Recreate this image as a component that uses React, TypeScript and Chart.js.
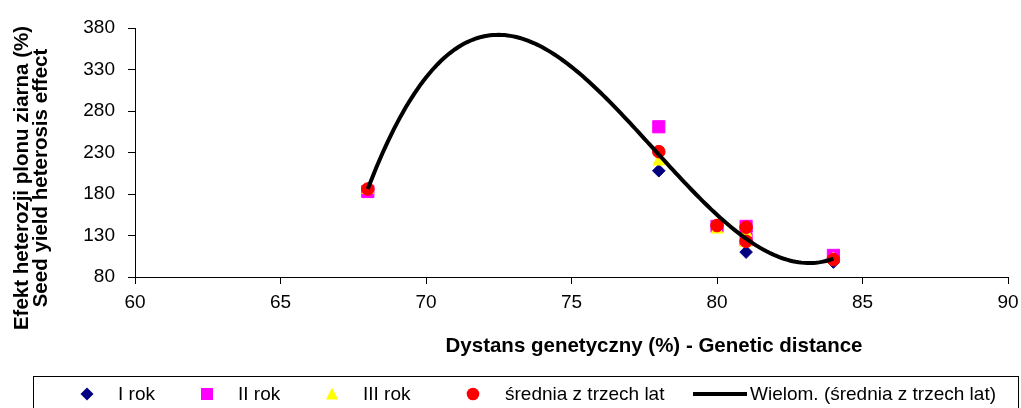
import React, { useEffect, useRef } from 'react';
import { Chart, registerables } from 'chart.js';

Chart.register(...registerables);

// ---- data ----
const distance = [68, 78, 80, 81, 81, 84];
const rokI = [186, 208, 142, 135, 110, 98];
const rokII = [183, 261, 141, 141, 125, 106];
const rokIII = [185, 219, 137, 133, 121, 102];
const srednia = [186, 231, 142, 140, 123, 101];

const seriesNames = ['I rok', 'II rok', 'III rok', 'średnia z trzech lat', 'Wielom. (średnia z trzech lat)'];
const xTitle = 'Dystans genetyczny (%) - Genetic distance';
const yTitleLines = ['Efekt heterozji plonu ziarna (%)', 'Seed yield heterosis effect'];
const xMin = 60, xMax = 90, xStep = 5;
const yMin = 80, yMax = 380, yStep = 50;
const trendOrder = 3; // Excel polynomial trendline of the mean series

const FONT = '"Liberation Sans", Arial, Helvetica, sans-serif';

// least squares polynomial fit (same as Excel's polynomial trendline)
function polyfit(xs: number[], ys: number[], order: number) {
  const n = order + 1;
  const mean = xs.reduce((a, b) => a + b, 0) / xs.length;
  const M: number[][] = Array.from({ length: n }, () => new Array(n + 1).fill(0));
  for (let k = 0; k < xs.length; k++) {
    const t = xs[k] - mean;
    for (let i = 0; i < n; i++) {
      for (let j = 0; j < n; j++) M[i][j] += Math.pow(t, i + j);
      M[i][n] += ys[k] * Math.pow(t, i);
    }
  }
  for (let c = 0; c < n; c++) {
    let p = c;
    for (let r = c + 1; r < n; r++) if (Math.abs(M[r][c]) > Math.abs(M[p][c])) p = r;
    [M[c], M[p]] = [M[p], M[c]];
    for (let r = 0; r < n; r++) {
      if (r === c) continue;
      const f = M[r][c] / M[c][c];
      for (let j = c; j <= n; j++) M[r][j] -= f * M[c][j];
    }
  }
  const coef = M.map((row, i) => row[n] / row[i]);
  return (x: number) => coef.reduce((s, a, i) => s + a * Math.pow(x - mean, i), 0);
}

const pts = (ys: number[]) => ys.map((y, i) => ({ x: distance[i], y }));

const overlayPlugin = {
  id: 'overlayTitlesLegend',
  afterDraw(chart: any) {
    const ctx = chart.ctx as CanvasRenderingContext2D;
    ctx.save();
    ctx.fillStyle = '#000';
    // x axis title
    ctx.font = `bold 20.5px ${FONT}`;
    ctx.textAlign = 'center';
    ctx.textBaseline = 'alphabetic';
    ctx.fillText(xTitle, 654, 352);
    // y axis title (two lines, rotated)
    ctx.save();
    ctx.translate(0, 178);
    ctx.rotate(-Math.PI / 2);
    ctx.fillText(yTitleLines[0], 0, 28);
    ctx.fillText(yTitleLines[1], 0, 47);
    ctx.restore();

    // legend box
    ctx.strokeStyle = '#000';
    ctx.lineWidth = 1;
    ctx.strokeRect(33.5, 376.5, 985, 60);
    const cy = 394;
    const colors = chart.data.datasets;
    const getColor = (label: string) => colors.find((d: any) => d.label === label).backgroundColor;
    // diamond
    ctx.fillStyle = getColor(seriesNames[0]);
    ctx.beginPath();
    ctx.moveTo(87, cy - 6.5); ctx.lineTo(93.5, cy); ctx.lineTo(87, cy + 6.5); ctx.lineTo(80.5, cy);
    ctx.closePath(); ctx.fill();
    // square
    ctx.fillStyle = getColor(seriesNames[1]);
    ctx.fillRect(201, cy - 6, 12, 12);
    // triangle
    ctx.fillStyle = getColor(seriesNames[2]);
    ctx.beginPath();
    ctx.moveTo(332, cy - 6.5); ctx.lineTo(338, cy + 5.5); ctx.lineTo(326, cy + 5.5);
    ctx.closePath(); ctx.fill();
    // circle
    ctx.fillStyle = getColor(seriesNames[3]);
    ctx.beginPath(); ctx.arc(473, cy, 6.3, 0, Math.PI * 2); ctx.fill();
    // line
    ctx.strokeStyle = '#000';
    ctx.lineWidth = 4;
    ctx.beginPath(); ctx.moveTo(693, cy); ctx.lineTo(747, cy); ctx.stroke();

    ctx.fillStyle = '#000';
    ctx.font = `19px ${FONT}`;
    ctx.textAlign = 'left';
    ctx.textBaseline = 'alphabetic';
    const textX = [118, 238, 363, 505, 750];
    seriesNames.forEach((s, i) => ctx.fillText(s, textX[i], 400));
    ctx.restore();
  },
};

export default function App() {
  const ref = useRef<HTMLCanvasElement | null>(null);
  useEffect(() => {
    if (!ref.current) return;
    const fit = polyfit(distance, srednia, trendOrder);
    const lo = Math.min(...distance), hi = Math.max(...distance);
    const trend: { x: number; y: number }[] = [];
    for (let x = lo; x <= hi + 1e-9; x += 0.1) trend.push({ x, y: fit(x) });

    const chart = new Chart(ref.current, {
      type: 'scatter',
      data: {
        datasets: [
          {
            type: 'line', label: seriesNames[4], data: trend, borderColor: '#000', backgroundColor: '#000',
            borderWidth: 4, pointRadius: 0, tension: 0, fill: false, order: 0,
          } as any,
          {
            label: seriesNames[3], data: pts(srednia), pointStyle: 'circle', pointRadius: 6.3,
            backgroundColor: '#FF0000', borderColor: '#FF0000', borderWidth: 1, order: 1,
          },
          {
            label: seriesNames[2], data: pts(rokIII), pointStyle: 'triangle', pointRadius: 6.8,
            backgroundColor: '#FFFF00', borderColor: '#FFFF00', borderWidth: 1, order: 2,
          },
          {
            label: seriesNames[1], data: pts(rokII), pointStyle: 'rect', pointRadius: 8.6,
            backgroundColor: '#FF00FF', borderColor: '#FF00FF', borderWidth: 1, order: 3,
          },
          {
            label: seriesNames[0], data: pts(rokI), pointStyle: 'rectRot', pointRadius: 6.3,
            backgroundColor: '#000080', borderColor: '#000080', borderWidth: 1, order: 4,
          },
        ],
      },
      options: {
        animation: false,
        responsive: true,
        maintainAspectRatio: false,
        layout: { padding: { top: 28, right: 13, bottom: 0, left: 0 } },
        plugins: { legend: { display: false }, tooltip: { enabled: false } },
        scales: {
          x: {
            type: 'linear', min: xMin, max: xMax,
            ticks: { stepSize: xStep, color: '#000', font: { family: FONT, size: 19 }, padding: 7 },
            grid: { drawOnChartArea: false, drawTicks: true, tickLength: 7, color: '#000' },
            border: { color: '#000', width: 1 },
            afterFit: (s: any) => { s.height = 131; s.paddingRight = 0; s.paddingLeft = 0; },
          },
          y: {
            type: 'linear', min: yMin, max: yMax,
            ticks: { stepSize: yStep, color: '#000', font: { family: FONT, size: 19 }, padding: 13 },
            grid: { drawOnChartArea: false, drawTicks: true, tickLength: 7, color: '#000' },
            border: { color: '#000', width: 1 },
            afterFit: (s: any) => { s.width = 135; s.paddingTop = 0; s.paddingBottom = 0; },
          },
        },
      },
      plugins: [overlayPlugin],
    });
    return () => chart.destroy();
  }, []);

  return (
    <div style={{ position: 'fixed', left: 0, top: 0, width: 1021, height: 408, background: '#fff' }}>
      <canvas ref={ref} />
    </div>
  );
}
